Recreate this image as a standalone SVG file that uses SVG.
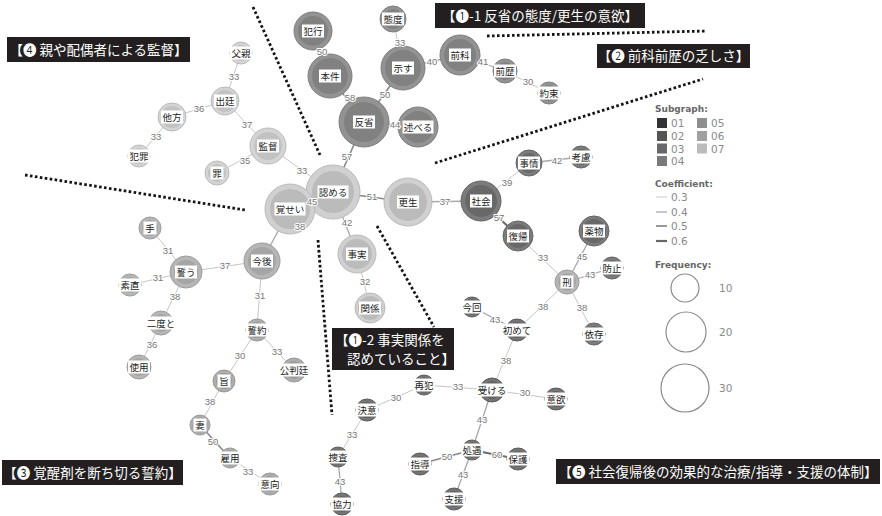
<svg xmlns="http://www.w3.org/2000/svg" width="882" height="516" viewBox="0 0 882 516">
<style>
.bg{fill:#ffffff}
.e{fill:none;stroke-linecap:round}
.a{stroke:#c6c6c6;stroke-width:1}
.b{stroke:#a8a8a8;stroke-width:1.3}
.c{stroke:#888888;stroke-width:1.6}
.d{stroke:#6a6a6a;stroke-width:2}
.el{font-family:"Liberation Sans","DejaVu Sans",sans-serif;font-size:9.5px;fill:#777;text-anchor:middle;stroke:#ffffff;stroke-width:2;paint-order:stroke;stroke-linejoin:round}
.lb{fill:#ffffff}
.nl{font-family:"Noto Sans CJK JP",sans-serif;font-size:9.5px;fill:#222;text-anchor:middle}
.c1 .o{fill:#939393;stroke:#7e7e7e}.c1 .i{fill:#818181}
.c2 .o{fill:#d0d0d0;stroke:#bababa}.c2 .i{fill:#bbbbbb}
.c3 .o{fill:#d4d4d4;stroke:#bbbbbb}.c3 .i{fill:#c2c2c2}
.c4 .o{fill:#b6b6b6;stroke:#9c9c9c}.c4 .i{fill:#a5a5a5}
.c5 .o{fill:#adadad;stroke:#999}.c5 .i{fill:#9c9c9c}
.c6 .o{fill:#7c7c7c;stroke:#666}.c6 .i{fill:#686868}
.c7 .o{fill:#747474;stroke:#5c5c5c}.c7 .i{fill:#626262}
.o{stroke-width:1}
.dot{fill:none;stroke:#151515;stroke-width:2.8;stroke-dasharray:2.6 2.4}
.bn{fill:#231f20}
.bt{font-family:"Noto Sans CJK JP",sans-serif;font-size:13.5px;fill:#ffffff}
.lt{font-family:"DejaVu Sans",sans-serif;font-size:9px;font-weight:bold;fill:#666}
.lv{font-family:"DejaVu Sans",sans-serif;font-size:10.5px;fill:#8a8a8a}
.fc{fill:none;stroke:#8a8a8a;stroke-width:1.2}
</style>
<rect class="bg" x="0" y="0" width="882" height="516"/>

<g id="connectors">
<line class="e c" x1="313" y1="31" x2="330" y2="76"/>
<line class="e c" x1="330" y1="76" x2="364" y2="122"/>
<line class="e a" x1="393" y1="19" x2="403" y2="68"/>
<line class="e b" x1="403" y1="68" x2="460" y2="55"/>
<line class="e b" x1="460" y1="55" x2="505" y2="71"/>
<line class="e a" x1="505" y1="71" x2="549" y2="93"/>
<line class="e c" x1="403" y1="68" x2="364" y2="122"/>
<line class="e b" x1="364" y1="122" x2="418" y2="127"/>
<line class="e c" x1="364" y1="122" x2="333" y2="192"/>
<line class="e a" x1="268" y1="146" x2="333" y2="192"/>
<line class="e b" x1="333" y1="192" x2="290" y2="209"/>
<line class="e c" x1="333" y1="192" x2="408" y2="202"/>
<line class="e b" x1="333" y1="192" x2="357" y2="254"/>
<line class="e a" x1="357" y1="254" x2="370" y2="308"/>
<line class="e b" x1="290" y1="209" x2="262" y2="261"/>
<line class="e b" x1="408" y1="202" x2="481" y2="201"/>
<line class="e a" x1="481" y1="201" x2="529" y2="163"/>
<line class="e b" x1="529" y1="163" x2="581" y2="157"/>
<line class="e d" x1="481" y1="201" x2="518" y2="236"/>
<line class="e a" x1="518" y1="236" x2="567" y2="282"/>
<line class="e b" x1="567" y1="282" x2="594" y2="231"/>
<line class="e b" x1="567" y1="282" x2="612" y2="268"/>
<line class="e a" x1="567" y1="282" x2="594" y2="334"/>
<line class="e a" x1="567" y1="282" x2="517" y2="330"/>
<line class="e b" x1="472" y1="307" x2="517" y2="330"/>
<line class="e a" x1="517" y1="330" x2="492" y2="390"/>
<line class="e a" x1="424" y1="385" x2="492" y2="390"/>
<line class="e a" x1="492" y1="390" x2="556" y2="399"/>
<line class="e a" x1="367" y1="410" x2="424" y2="385"/>
<line class="e b" x1="492" y1="390" x2="472" y2="450"/>
<line class="e c" x1="420" y1="464" x2="472" y2="450"/>
<line class="e d" x1="472" y1="450" x2="518" y2="459"/>
<line class="e b" x1="472" y1="450" x2="454" y2="499"/>
<line class="e a" x1="367" y1="410" x2="338" y2="457"/>
<line class="e b" x1="338" y1="457" x2="342" y2="504"/>
<line class="e a" x1="241" y1="53" x2="225" y2="101"/>
<line class="e a" x1="172" y1="117" x2="225" y2="101"/>
<line class="e a" x1="225" y1="101" x2="268" y2="146"/>
<line class="e a" x1="172" y1="117" x2="139" y2="156"/>
<line class="e a" x1="268" y1="146" x2="217" y2="173"/>
<line class="e a" x1="150" y1="228" x2="186" y2="272"/>
<line class="e a" x1="186" y1="272" x2="262" y2="261"/>
<line class="e a" x1="130" y1="285" x2="186" y2="272"/>
<line class="e a" x1="186" y1="272" x2="161" y2="323"/>
<line class="e a" x1="161" y1="323" x2="139" y2="367"/>
<line class="e a" x1="262" y1="261" x2="257" y2="330"/>
<line class="e a" x1="257" y1="330" x2="224" y2="381"/>
<line class="e a" x1="257" y1="330" x2="294" y2="370"/>
<line class="e a" x1="224" y1="381" x2="200" y2="425"/>
<line class="e c" x1="200" y1="425" x2="230" y2="458"/>
<line class="e a" x1="230" y1="458" x2="270" y2="484"/>
</g>

<g id="nodes">
<g id="n-hankou" class="c1"><circle class="o" cx="313" cy="31" r="19"/><circle class="i" cx="313" cy="31" r="15"/><rect class="lb" x="302" y="24.5" width="22" height="13"/><text class="nl" x="313" y="34.5">犯行</text></g>
<g id="n-honken" class="c1"><circle class="o" cx="330" cy="76" r="22"/><circle class="i" cx="330" cy="76" r="18"/><rect class="lb" x="319" y="69.5" width="22" height="13"/><text class="nl" x="330" y="79.5">本件</text></g>
<g id="n-taido" class="c1"><circle class="o" cx="393" cy="19" r="13"/><circle class="i" cx="393" cy="19" r="10"/><rect class="lb" x="382" y="12.5" width="22" height="13"/><text class="nl" x="393" y="22.5">態度</text></g>
<g id="n-shimesu" class="c1"><circle class="o" cx="403" cy="68" r="22"/><circle class="i" cx="403" cy="68" r="18"/><rect class="lb" x="392" y="61.5" width="22" height="13"/><text class="nl" x="403" y="71.5">示す</text></g>
<g id="n-zenka" class="c1"><circle class="o" cx="460" cy="55" r="20"/><circle class="i" cx="460" cy="55" r="16"/><rect class="lb" x="449" y="48.5" width="22" height="13"/><text class="nl" x="460" y="58.5">前科</text></g>
<g id="n-zenreki" class="c1"><circle class="o" cx="505" cy="71" r="12"/><circle class="i" cx="505" cy="71" r="9"/><rect class="lb" x="494" y="64.5" width="22" height="13"/><text class="nl" x="505" y="74.5">前歴</text></g>
<g id="n-yakusoku" class="c1"><circle class="o" cx="549" cy="93" r="11"/><circle class="i" cx="549" cy="93" r="8"/><rect class="lb" x="538" y="86.5" width="22" height="13"/><text class="nl" x="549" y="96.5">約束</text></g>
<g id="n-hansei" class="c1"><circle class="o" cx="364" cy="122" r="25"/><circle class="i" cx="364" cy="122" r="20"/><rect class="lb" x="353" y="115.5" width="22" height="13"/><text class="nl" x="364" y="125.5">反省</text></g>
<g id="n-noberu" class="c1"><circle class="o" cx="418" cy="127" r="20"/><circle class="i" cx="418" cy="127" r="16"/><rect class="lb" x="402.5" y="120.5" width="31" height="13"/><text class="nl" x="418" y="130.5">述べる</text></g>

<g id="n-mitomeru" class="c2"><circle class="o" cx="333" cy="192" r="27"/><circle class="i" cx="333" cy="192" r="21"/><rect class="lb" x="317.5" y="185.5" width="31" height="13"/><text class="nl" x="333" y="195.5">認める</text></g>
<g id="n-kakusei" class="c2"><circle class="o" cx="290" cy="209" r="25"/><circle class="i" cx="290" cy="209" r="20"/><rect class="lb" x="274.5" y="202.5" width="31" height="13"/><text class="nl" x="290" y="212.5">覚せい</text></g>
<g id="n-kousei" class="c2"><circle class="o" cx="408" cy="202" r="24"/><circle class="i" cx="408" cy="202" r="19"/><rect class="lb" x="397" y="195.5" width="22" height="13"/><text class="nl" x="408" y="205.5">更生</text></g>
<g id="n-jijitsu" class="c2"><circle class="o" cx="357" cy="254" r="19"/><circle class="i" cx="357" cy="254" r="15"/><rect class="lb" x="346" y="247.5" width="22" height="13"/><text class="nl" x="357" y="257.5">事実</text></g>
<g id="n-kankei" class="c2"><circle class="o" cx="370" cy="308" r="15"/><circle class="i" cx="370" cy="308" r="12"/><rect class="lb" x="359" y="301.5" width="22" height="13"/><text class="nl" x="370" y="311.5">関係</text></g>

<g id="n-chichioya" class="c3"><circle class="o" cx="241" cy="53" r="11"/><circle class="i" cx="241" cy="53" r="8"/><rect class="lb" x="230" y="46.5" width="22" height="13"/><text class="nl" x="241" y="56.5">父親</text></g>
<g id="n-shuttei" class="c3"><circle class="o" cx="225" cy="101" r="14"/><circle class="i" cx="225" cy="101" r="11"/><rect class="lb" x="214" y="94.5" width="22" height="13"/><text class="nl" x="225" y="104.5">出廷</text></g>
<g id="n-tahou" class="c3"><circle class="o" cx="172" cy="117" r="14"/><circle class="i" cx="172" cy="117" r="11"/><rect class="lb" x="161" y="110.5" width="22" height="13"/><text class="nl" x="172" y="120.5">他方</text></g>
<g id="n-hanzai" class="c3"><circle class="o" cx="139" cy="156" r="11"/><circle class="i" cx="139" cy="156" r="8"/><rect class="lb" x="128" y="149.5" width="22" height="13"/><text class="nl" x="139" y="159.5">犯罪</text></g>
<g id="n-kantoku" class="c3"><circle class="o" cx="268" cy="146" r="18"/><circle class="i" cx="268" cy="146" r="14"/><rect class="lb" x="257" y="139.5" width="22" height="13"/><text class="nl" x="268" y="149.5">監督</text></g>
<g id="n-tsumi" class="c3"><circle class="o" cx="217" cy="173" r="12"/><circle class="i" cx="217" cy="173" r="9"/><rect class="lb" x="210.5" y="166.5" width="13" height="13"/><text class="nl" x="217" y="176.5">罪</text></g>

<g id="n-te" class="c4"><circle class="o" cx="150" cy="228" r="11"/><circle class="i" cx="150" cy="228" r="8"/><rect class="lb" x="143.5" y="221.5" width="13" height="13"/><text class="nl" x="150" y="231.5">手</text></g>
<g id="n-chikau" class="c4"><circle class="o" cx="186" cy="272" r="16"/><circle class="i" cx="186" cy="272" r="12"/><rect class="lb" x="175" y="265.5" width="22" height="13"/><text class="nl" x="186" y="275.5">誓う</text></g>
<g id="n-kongo" class="c4"><circle class="o" cx="262" cy="261" r="18"/><circle class="i" cx="262" cy="261" r="14"/><rect class="lb" x="251" y="254.5" width="22" height="13"/><text class="nl" x="262" y="264.5">今後</text></g>
<g id="n-sunao" class="c4"><circle class="o" cx="130" cy="285" r="11"/><circle class="i" cx="130" cy="285" r="8"/><rect class="lb" x="119" y="278.5" width="22" height="13"/><text class="nl" x="130" y="288.5">素直</text></g>
<g id="n-nidoto" class="c4"><circle class="o" cx="161" cy="323" r="12"/><circle class="i" cx="161" cy="323" r="9"/><rect class="lb" x="145.5" y="316.5" width="31" height="13"/><text class="nl" x="161" y="326.5">二度と</text></g>
<g id="n-shiyou" class="c4"><circle class="o" cx="139" cy="367" r="12"/><circle class="i" cx="139" cy="367" r="9"/><rect class="lb" x="128" y="360.5" width="22" height="13"/><text class="nl" x="139" y="370.5">使用</text></g>

<g id="n-seiyaku" class="c5"><circle class="o" cx="257" cy="330" r="11"/><circle class="i" cx="257" cy="330" r="8"/><rect class="lb" x="246" y="323.5" width="22" height="13"/><text class="nl" x="257" y="333.5">誓約</text></g>
<g id="n-kouhantei" class="c5"><circle class="o" cx="294" cy="370" r="12"/><circle class="i" cx="294" cy="370" r="9"/><rect class="lb" x="278.5" y="363.5" width="31" height="13"/><text class="nl" x="294" y="373.5">公判廷</text></g>
<g id="n-mune" class="c5"><circle class="o" cx="224" cy="381" r="11"/><circle class="i" cx="224" cy="381" r="8"/><rect class="lb" x="217.5" y="374.5" width="13" height="13"/><text class="nl" x="224" y="384.5">旨</text></g>
<g id="n-tsuma" class="c5"><circle class="o" cx="200" cy="425" r="10"/><circle class="i" cx="200" cy="425" r="7.5"/><rect class="lb" x="193.5" y="418.5" width="13" height="13"/><text class="nl" x="200" y="428.5">妻</text></g>
<g id="n-koyou" class="c5"><circle class="o" cx="230" cy="458" r="10"/><circle class="i" cx="230" cy="458" r="7.5"/><rect class="lb" x="219" y="451.5" width="22" height="13"/><text class="nl" x="230" y="461.5">雇用</text></g>
<g id="n-ikou" class="c5"><circle class="o" cx="270" cy="484" r="11"/><circle class="i" cx="270" cy="484" r="8"/><rect class="lb" x="259" y="477.5" width="22" height="13"/><text class="nl" x="270" y="487.5">意向</text></g>

<g id="n-jijou" class="c6"><circle class="o" cx="529" cy="163" r="13"/><circle class="i" cx="529" cy="163" r="10"/><rect class="lb" x="518" y="156.5" width="22" height="13"/><text class="nl" x="529" y="166.5">事情</text></g>
<g id="n-kouryo" class="c6"><circle class="o" cx="581" cy="157" r="11"/><circle class="i" cx="581" cy="157" r="8"/><rect class="lb" x="570" y="150.5" width="22" height="13"/><text class="nl" x="581" y="160.5">考慮</text></g>
<g id="n-shakai" class="c6"><circle class="o" cx="481" cy="201" r="20"/><circle class="i" cx="481" cy="201" r="16"/><rect class="lb" x="470" y="194.5" width="22" height="13"/><text class="nl" x="481" y="204.5">社会</text></g>
<g id="n-fukki" class="c6"><circle class="o" cx="518" cy="236" r="15"/><circle class="i" cx="518" cy="236" r="12"/><rect class="lb" x="507" y="229.5" width="22" height="13"/><text class="nl" x="518" y="239.5">復帰</text></g>
<g id="n-yakubutsu" class="c6"><circle class="o" cx="594" cy="231" r="15"/><circle class="i" cx="594" cy="231" r="12"/><rect class="lb" x="583" y="224.5" width="22" height="13"/><text class="nl" x="594" y="234.5">薬物</text></g>
<g id="n-boushi" class="c6"><circle class="o" cx="612" cy="268" r="11"/><circle class="i" cx="612" cy="268" r="8"/><rect class="lb" x="601" y="261.5" width="22" height="13"/><text class="nl" x="612" y="271.5">防止</text></g>
<g id="n-kei" class="c4"><circle class="o" cx="567" cy="282" r="12"/><circle class="i" cx="567" cy="282" r="9"/><rect class="lb" x="560.5" y="275.5" width="13" height="13"/><text class="nl" x="567" y="285.5">刑</text></g>
<g id="n-izon" class="c6"><circle class="o" cx="594" cy="334" r="11"/><circle class="i" cx="594" cy="334" r="8"/><rect class="lb" x="583" y="327.5" width="22" height="13"/><text class="nl" x="594" y="337.5">依存</text></g>

<g id="n-konkai" class="c7"><circle class="o" cx="472" cy="307" r="10"/><circle class="i" cx="472" cy="307" r="7.5"/><rect class="lb" x="461" y="300.5" width="22" height="13"/><text class="nl" x="472" y="310.5">今回</text></g>
<g id="n-hajimete" class="c7"><circle class="o" cx="517" cy="330" r="11"/><circle class="i" cx="517" cy="330" r="8"/><rect class="lb" x="501.5" y="323.5" width="31" height="13"/><text class="nl" x="517" y="333.5">初めて</text></g>
<g id="n-ukeru" class="c7"><circle class="o" cx="492" cy="390" r="12"/><circle class="i" cx="492" cy="390" r="9"/><rect class="lb" x="476.5" y="383.5" width="31" height="13"/><text class="nl" x="492" y="393.5">受ける</text></g>
<g id="n-saihan" class="c7"><circle class="o" cx="424" cy="385" r="10"/><circle class="i" cx="424" cy="385" r="7.5"/><rect class="lb" x="413" y="378.5" width="22" height="13"/><text class="nl" x="424" y="388.5">再犯</text></g>
<g id="n-iyoku" class="c7"><circle class="o" cx="556" cy="399" r="11"/><circle class="i" cx="556" cy="399" r="8"/><rect class="lb" x="545" y="392.5" width="22" height="13"/><text class="nl" x="556" y="402.5">意欲</text></g>
<g id="n-ketsui" class="c7"><circle class="o" cx="367" cy="410" r="11"/><circle class="i" cx="367" cy="410" r="8"/><rect class="lb" x="356" y="403.5" width="22" height="13"/><text class="nl" x="367" y="413.5">決意</text></g>
<g id="n-shogu" class="c7"><circle class="o" cx="472" cy="450" r="10"/><circle class="i" cx="472" cy="450" r="7.5"/><rect class="lb" x="461" y="443.5" width="22" height="13"/><text class="nl" x="472" y="453.5">処遇</text></g>
<g id="n-shidou" class="c7"><circle class="o" cx="420" cy="464" r="11"/><circle class="i" cx="420" cy="464" r="8"/><rect class="lb" x="409" y="457.5" width="22" height="13"/><text class="nl" x="420" y="467.5">指導</text></g>
<g id="n-hogo" class="c7"><circle class="o" cx="518" cy="459" r="11"/><circle class="i" cx="518" cy="459" r="8"/><rect class="lb" x="507" y="452.5" width="22" height="13"/><text class="nl" x="518" y="462.5">保護</text></g>
<g id="n-shien" class="c7"><circle class="o" cx="454" cy="499" r="11"/><circle class="i" cx="454" cy="499" r="8"/><rect class="lb" x="443" y="492.5" width="22" height="13"/><text class="nl" x="454" y="502.5">支援</text></g>
<g id="n-sousa" class="c7"><circle class="o" cx="338" cy="457" r="10"/><circle class="i" cx="338" cy="457" r="7.5"/><rect class="lb" x="327" y="450.5" width="22" height="13"/><text class="nl" x="338" y="460.5">捜査</text></g>
<g id="n-kyouryoku" class="c7"><circle class="o" cx="342" cy="504" r="11"/><circle class="i" cx="342" cy="504" r="8"/><rect class="lb" x="331" y="497.5" width="22" height="13"/><text class="nl" x="342" y="507.5">協力</text></g>
</g>

<g id="edge-labels">
<text class="el" x="322" y="55">50</text>
<text class="el" x="350" y="101">58</text>
<text class="el" x="400" y="46">33</text>
<text class="el" x="432" y="65">40</text>
<text class="el" x="483" y="65">41</text>
<text class="el" x="528" y="85">30</text>
<text class="el" x="385" y="98">50</text>
<text class="el" x="395" y="128">44</text>
<text class="el" x="347" y="160">57</text>
<text class="el" x="302" y="174">33</text>
<text class="el" x="312" y="205">45</text>
<text class="el" x="372" y="200">51</text>
<text class="el" x="347" y="226">42</text>
<text class="el" x="365" y="285">32</text>
<text class="el" x="300" y="230">38</text>
<text class="el" x="445" y="205">37</text>
<text class="el" x="507" y="186">39</text>
<text class="el" x="557" y="164">42</text>
<text class="el" x="499" y="221">57</text>
<text class="el" x="543" y="261">33</text>
<text class="el" x="582" y="260">45</text>
<text class="el" x="590" y="278">43</text>
<text class="el" x="582" y="311">38</text>
<text class="el" x="543" y="310">38</text>
<text class="el" x="495" y="323">43</text>
<text class="el" x="506" y="364">38</text>
<text class="el" x="458" y="390">33</text>
<text class="el" x="525" y="396">30</text>
<text class="el" x="396" y="401">30</text>
<text class="el" x="482" y="423">43</text>
<text class="el" x="447" y="460">50</text>
<text class="el" x="497" y="458">60</text>
<text class="el" x="463" y="478">43</text>
<text class="el" x="352" y="438">33</text>
<text class="el" x="340" y="485">43</text>
<text class="el" x="234" y="80">33</text>
<text class="el" x="199" y="112">36</text>
<text class="el" x="247" y="128">37</text>
<text class="el" x="156" y="140">33</text>
<text class="el" x="245" y="164">35</text>
<text class="el" x="168" y="254">31</text>
<text class="el" x="225" y="269">37</text>
<text class="el" x="158" y="281">31</text>
<text class="el" x="175" y="300">38</text>
<text class="el" x="152" y="348">36</text>
<text class="el" x="260" y="299">31</text>
<text class="el" x="240" y="359">30</text>
<text class="el" x="277" y="355">33</text>
<text class="el" x="210" y="405">38</text>
<text class="el" x="213" y="445">50</text>
<text class="el" x="248" y="475">33</text>
</g>

<g id="callouts">
<line class="dot" x1="253" y1="7" x2="320" y2="155"/>
<line class="dot" x1="487" y1="36" x2="707" y2="31"/>
<line class="dot" x1="435" y1="163" x2="703" y2="79"/>
<line class="dot" x1="25" y1="175" x2="245" y2="210"/>
<line class="dot" x1="318" y1="240" x2="332" y2="415"/>
<line class="dot" x1="377" y1="226" x2="434" y2="327"/>
</g>

<g id="banners">
<rect class="bn" x="7" y="37" width="183" height="25"/>
<text class="bt" x="98.5" y="55" text-anchor="middle">【❹ 親や配偶者による監督】</text>
<rect class="bn" x="435" y="3" width="210" height="25"/>
<text class="bt" x="540" y="21" text-anchor="middle">【❶-1 反省の態度/更生の意欲】</text>
<rect class="bn" x="597" y="44" width="153" height="24"/>
<text class="bt" x="673.5" y="61" text-anchor="middle">【❷ 前科前歴の乏しさ】</text>
<rect class="bn" x="332" y="328" width="122" height="42"/>
<text class="bt" x="335" y="345">【❶-2 事実関係を</text>
<text class="bt" x="347" y="364">認めていること】</text>
<rect class="bn" x="2" y="460" width="181" height="25"/>
<text class="bt" x="92.5" y="478" text-anchor="middle">【❸ 覚醒剤を断ち切る誓約】</text>
<rect class="bn" x="556" y="459" width="324" height="25"/>
<text class="bt" x="718" y="477" text-anchor="middle">【❺ 社会復帰後の効果的な治療/指導・支援の体制】</text>
</g>

<g id="legend">
<text class="lt" x="655" y="112">Subgraph:</text>
<rect x="657" y="118" width="10" height="10" fill="#333333"/><text class="lv" x="671" y="127">01</text>
<rect x="657" y="131" width="10" height="10" fill="#555555"/><text class="lv" x="671" y="140">02</text>
<rect x="657" y="143.5" width="10" height="10" fill="#686868"/><text class="lv" x="671" y="152.5">03</text>
<rect x="657" y="156" width="10" height="10" fill="#7a7a7a"/><text class="lv" x="671" y="165">04</text>
<rect x="697" y="118" width="10" height="10" fill="#8e8e8e"/><text class="lv" x="711" y="127">05</text>
<rect x="697" y="131" width="10" height="10" fill="#a0a0a0"/><text class="lv" x="711" y="140">06</text>
<rect x="697" y="143.5" width="10" height="10" fill="#bbbbbb"/><text class="lv" x="711" y="152.5">07</text>
<text class="lt" x="655" y="187">Coefficient:</text>
<line x1="656" y1="197" x2="667" y2="197" stroke="#cccccc" stroke-width="1"/><text class="lv" x="671" y="200.5">0.3</text>
<line x1="656" y1="212" x2="667" y2="212" stroke="#aaaaaa" stroke-width="1.3"/><text class="lv" x="671" y="215.5">0.4</text>
<line x1="656" y1="226" x2="667" y2="226" stroke="#888888" stroke-width="1.7"/><text class="lv" x="671" y="229.5">0.5</text>
<line x1="656" y1="241" x2="667" y2="241" stroke="#666666" stroke-width="2.2"/><text class="lv" x="671" y="244.5">0.6</text>
<text class="lt" x="655" y="268">Frequency:</text>
<circle class="fc" cx="685" cy="288" r="14"/><text class="lv" x="719" y="292">10</text>
<circle class="fc" cx="686" cy="332" r="20"/><text class="lv" x="719" y="336">20</text>
<circle class="fc" cx="685" cy="388" r="24"/><text class="lv" x="719" y="392">30</text>
</g>
</svg>
